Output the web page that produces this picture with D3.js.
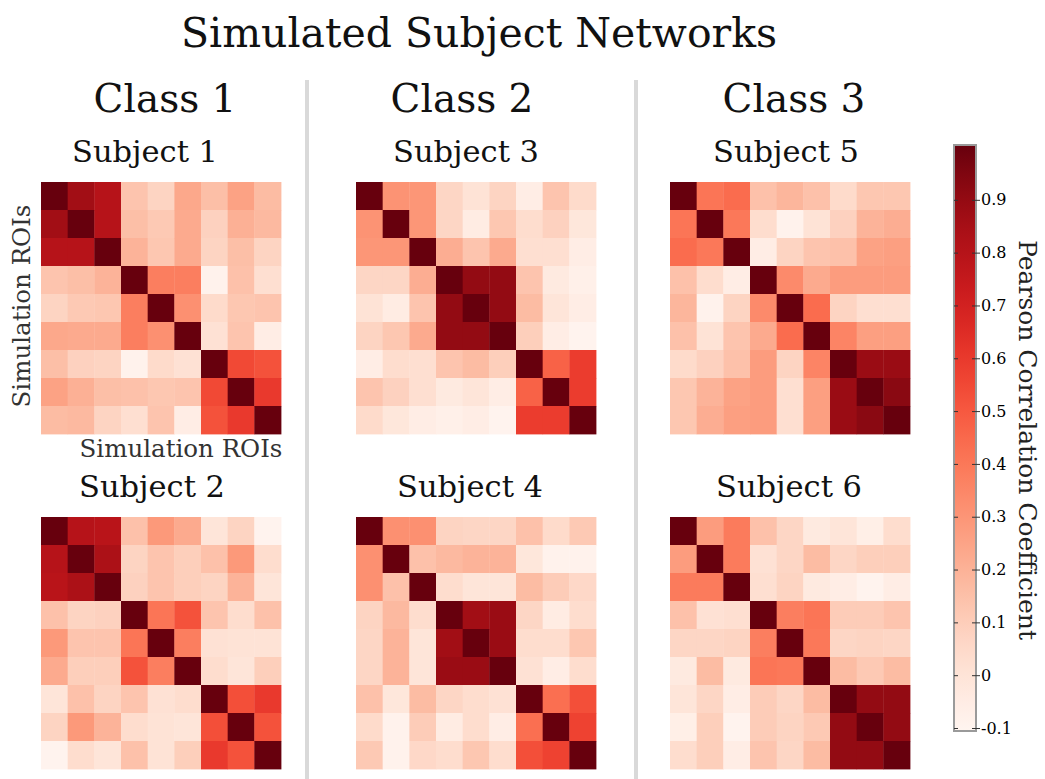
<!DOCTYPE html>
<html>
<head>
<meta charset="utf-8">
<script src="https://cdn.jsdelivr.net/npm/d3@7"></script>
<style>
  html, body { margin: 0; padding: 0; background: #ffffff; }
  svg { display: block; }
  text { font-family: "DejaVu Serif", "Liberation Serif", serif; fill: #111; }
</style>
</head>
<body>
<svg id="chart" width="1045" height="779"></svg>
<script>
// ---- data -------------------------------------------------------------
const rois = ["ROI 1", "ROI 2", "ROI 3", "ROI 4", "ROI 5", "ROI 6", "ROI 7", "ROI 8", "ROI 9"];
const classNames = ["Class 1", "Class 2", "Class 3"];
const subjectNames = ["Subject 1", "Subject 2", "Subject 3", "Subject 4", "Subject 5", "Subject 6"];
const colorTicks = [-0.1, 0, 0.1, 0.2, 0.3, 0.4, 0.5, 0.6, 0.7, 0.8, 0.9];

const subject1 = [
  [1.00, 0.86, 0.80, 0.14, 0.08, 0.24, 0.16, 0.26, 0.17],
  [0.86, 1.00, 0.80, 0.16, 0.12, 0.23, 0.09, 0.21, 0.18],
  [0.80, 0.80, 1.00, 0.20, 0.13, 0.23, 0.08, 0.16, 0.08],
  [0.14, 0.16, 0.20, 1.00, 0.38, 0.38, -0.08, 0.15, 0.03],
  [0.08, 0.12, 0.13, 0.38, 1.00, 0.32, 0.05, 0.13, 0.14],
  [0.24, 0.23, 0.23, 0.38, 0.32, 1.00, 0.02, 0.14, -0.05],
  [0.16, 0.09, 0.08, -0.08, 0.05, 0.02, 1.00, 0.55, 0.52],
  [0.26, 0.21, 0.16, 0.15, 0.13, 0.14, 0.55, 1.00, 0.60],
  [0.17, 0.18, 0.08, 0.03, 0.14, -0.05, 0.52, 0.60, 1.00]
];
const subject2 = [
  [1.00, 0.80, 0.79, 0.15, 0.29, 0.23, 0.00, 0.08, -0.09],
  [0.80, 1.00, 0.83, 0.08, 0.14, 0.10, 0.15, 0.29, 0.04],
  [0.79, 0.83, 1.00, 0.09, 0.14, 0.10, 0.08, 0.20, 0.00],
  [0.15, 0.08, 0.09, 1.00, 0.41, 0.52, 0.14, 0.04, 0.15],
  [0.29, 0.14, 0.14, 0.41, 1.00, 0.38, 0.02, 0.01, 0.01],
  [0.23, 0.10, 0.10, 0.52, 0.38, 1.00, 0.04, 0.00, 0.10],
  [0.00, 0.15, 0.08, 0.14, 0.02, 0.04, 1.00, 0.53, 0.60],
  [0.08, 0.29, 0.20, 0.04, 0.01, 0.00, 0.53, 1.00, 0.52],
  [-0.09, 0.04, 0.00, 0.15, 0.01, 0.10, 0.60, 0.52, 1.00]
];
const subject3 = [
  [1.00, 0.31, 0.30, 0.07, 0.01, 0.08, -0.05, 0.14, 0.05],
  [0.31, 1.00, 0.30, 0.07, -0.04, 0.13, 0.04, 0.09, -0.01],
  [0.30, 0.30, 1.00, 0.22, 0.14, 0.23, 0.03, 0.03, -0.05],
  [0.07, 0.07, 0.22, 1.00, 0.90, 0.90, 0.14, -0.03, -0.07],
  [0.01, -0.04, 0.14, 0.90, 1.00, 0.90, 0.17, 0.00, -0.05],
  [0.08, 0.13, 0.23, 0.90, 0.90, 1.00, 0.10, -0.05, -0.09],
  [-0.05, 0.04, 0.03, 0.14, 0.17, 0.10, 1.00, 0.47, 0.59],
  [0.14, 0.09, 0.03, -0.03, 0.00, -0.05, 0.47, 1.00, 0.59],
  [0.05, -0.01, -0.05, -0.07, -0.05, -0.09, 0.59, 0.59, 1.00]
];
const subject4 = [
  [1.00, 0.32, 0.32, 0.08, 0.07, 0.07, 0.15, 0.05, 0.12],
  [0.32, 1.00, 0.15, 0.18, 0.20, 0.20, -0.01, -0.08, -0.08],
  [0.32, 0.15, 1.00, 0.04, 0.00, 0.00, 0.17, 0.11, 0.06],
  [0.08, 0.18, 0.04, 1.00, 0.86, 0.88, 0.07, -0.04, 0.04],
  [0.07, 0.20, 0.00, 0.86, 1.00, 0.88, 0.04, 0.04, 0.13],
  [0.07, 0.20, 0.00, 0.88, 0.88, 1.00, 0.02, -0.05, 0.04],
  [0.15, -0.01, 0.17, 0.07, 0.04, 0.02, 1.00, 0.43, 0.53],
  [0.05, -0.08, 0.11, -0.04, 0.04, -0.05, 0.43, 1.00, 0.57],
  [0.12, -0.08, 0.06, 0.04, 0.13, 0.04, 0.53, 0.57, 1.00]
];
const subject5 = [
  [1.00, 0.41, 0.44, 0.15, 0.19, 0.15, 0.05, 0.13, 0.13],
  [0.41, 1.00, 0.40, 0.04, -0.08, 0.01, 0.09, 0.20, 0.22],
  [0.44, 0.40, 1.00, -0.05, 0.08, 0.14, 0.15, 0.26, 0.27],
  [0.15, 0.04, -0.05, 1.00, 0.34, 0.23, 0.28, 0.28, 0.28],
  [0.19, -0.08, 0.08, 0.34, 1.00, 0.44, 0.08, 0.03, 0.03],
  [0.15, 0.01, 0.14, 0.23, 0.44, 1.00, 0.36, 0.27, 0.27],
  [0.05, 0.09, 0.15, 0.28, 0.08, 0.36, 1.00, 0.88, 0.88],
  [0.13, 0.20, 0.26, 0.28, 0.03, 0.27, 0.88, 1.00, 0.92],
  [0.13, 0.22, 0.27, 0.28, 0.03, 0.27, 0.88, 0.92, 1.00]
];
const subject6 = [
  [1.00, 0.28, 0.39, 0.15, 0.07, -0.03, 0.00, -0.06, 0.04],
  [0.28, 1.00, 0.39, 0.02, 0.07, 0.17, 0.07, 0.10, 0.10],
  [0.39, 0.39, 1.00, 0.03, 0.08, -0.03, -0.05, -0.09, -0.05],
  [0.15, 0.02, 0.03, 1.00, 0.38, 0.41, 0.11, 0.11, 0.14],
  [0.07, 0.07, 0.08, 0.38, 1.00, 0.40, 0.07, 0.08, 0.07],
  [-0.03, 0.17, -0.03, 0.41, 0.40, 1.00, 0.17, 0.12, 0.17],
  [0.00, 0.07, -0.05, 0.11, 0.07, 0.17, 1.00, 0.90, 0.90],
  [-0.06, 0.10, -0.09, 0.11, 0.08, 0.12, 0.90, 1.00, 0.90],
  [0.04, 0.10, -0.05, 0.14, 0.07, 0.17, 0.90, 0.90, 1.00]
];
const subjectMatrices = [subject1, subject2, subject3, subject4, subject5, subject6];

// ---- layout -----------------------------------------------------------
const svg = d3.select("#chart");
const colLeft = [41, 356, 670];     // left edge of each class column's heatmaps
const rowTop = [182, 517];          // top edge of first / second subject row
const mapW = 240, mapH = 252;
const classCenter = [165, 462, 794];
const subjectLabelCenter = [[145, 152], [466, 470], [786, 789]];
const separatorsX = [307, 636];

const color = d3.scaleSequential(d3.interpolateReds).domain([-0.1, 1.0]);

const xBand = d3.scaleBand().domain(d3.range(rois.length)).range([0, mapW]);
const yBand = d3.scaleBand().domain(d3.range(rois.length)).range([0, mapH]);

// Title
svg.append("text")
  .attr("x", 479).attr("y", 47)
  .attr("text-anchor", "middle")
  .style("font-size", "41px")
  .text("Simulated Subject Networks");

// Column separators
svg.selectAll("line.sep").data(separatorsX).enter().append("line")
  .attr("class", "sep")
  .attr("x1", d => d).attr("x2", d => d)
  .attr("y1", 80).attr("y2", 779)
  .attr("stroke", "#d9d9d9").attr("stroke-width", 4);

// Class headers
svg.selectAll("text.cls").data(classNames).enter().append("text")
  .attr("class", "cls")
  .attr("x", (d, i) => classCenter[i]).attr("y", 112)
  .attr("text-anchor", "middle")
  .style("font-size", "39px")
  .text(d => d);

// Heatmaps: subjects 1..6 fill columns top-to-bottom
subjectMatrices.forEach((matrix, s) => {
  const col = Math.floor(s / 2), row = s % 2;
  const g = svg.append("g")
    .attr("transform", `translate(${colLeft[col]},${rowTop[row]})`);

  const cells = [];
  matrix.forEach((r, i) => r.forEach((v, j) => cells.push({ i, j, v })));

  g.selectAll("rect").data(cells).enter().append("rect")
    .attr("x", d => xBand(d.j))
    .attr("y", d => yBand(d.i))
    .attr("width", xBand.bandwidth() + 0.4)
    .attr("height", yBand.bandwidth() + 0.4)
    .attr("fill", d => color(d.v));

  svg.append("text")
    .attr("x", subjectLabelCenter[col][row])
    .attr("y", rowTop[row] - 20)
    .attr("text-anchor", "middle")
    .style("font-size", "30.5px")
    .text(subjectNames[s]);
});

// Axis labels on the first heatmap
svg.append("text")
  .attr("transform", "translate(30,306) rotate(-90)")
  .attr("text-anchor", "middle")
  .style("font-size", "24.5px")
  .style("fill", "#333")
  .text("Simulation ROIs");
svg.append("text")
  .attr("x", 181).attr("y", 457)
  .attr("text-anchor", "middle")
  .style("font-size", "24.5px")
  .style("fill", "#333")
  .text("Simulation ROIs");

// ---- colour bar ---------------------------------------------------------
const barX = 954, barW = 22, barTop = 145, barBottom = 731;
const cbScale = d3.scaleLinear().domain([-0.1, 1.0]).range([728, 147]);

const defs = svg.append("defs");
const grad = defs.append("linearGradient")
  .attr("id", "cbGrad")
  .attr("x1", 0).attr("y1", 1).attr("x2", 0).attr("y2", 0);
d3.range(0, 1.0001, 0.05).forEach(t => {
  grad.append("stop")
    .attr("offset", t)
    .attr("stop-color", d3.interpolateReds(t));
});

svg.append("rect")
  .attr("x", barX).attr("y", barTop)
  .attr("width", barW).attr("height", barBottom - barTop)
  .attr("fill", "url(#cbGrad)")
  .attr("stroke", "#9a9a9a").attr("stroke-width", 2);

const fmt = v => (v === 0 ? "0" : d3.format(".1f")(v).replace("\u2212", "-"));

const axisR = svg.append("g")
  .attr("transform", `translate(${barX + barW},0)`)
  .call(d3.axisRight(cbScale).tickValues(colorTicks).tickSize(4).tickPadding(1).tickFormat(fmt));
axisR.select(".domain").remove();
axisR.selectAll("line").attr("stroke", "#333").attr("x1", -4);
axisR.selectAll("text")
  .style("font-family", "'DejaVu Serif', serif")
  .style("font-size", "16px")
  .style("fill", "#000");

const axisL = svg.append("g")
  .attr("transform", `translate(${barX},0)`)
  .call(d3.axisLeft(cbScale).tickValues(colorTicks).tickSize(-4).tickFormat(""));
axisL.select(".domain").remove();
axisL.selectAll("line").attr("stroke", "#333");

svg.append("text")
  .attr("transform", "translate(1019,440) rotate(90)")
  .attr("text-anchor", "middle")
  .style("font-size", "25px")
  .style("fill", "#222")
  .text("Pearson Correlation Coefficient");
</script>
</body>
</html>
